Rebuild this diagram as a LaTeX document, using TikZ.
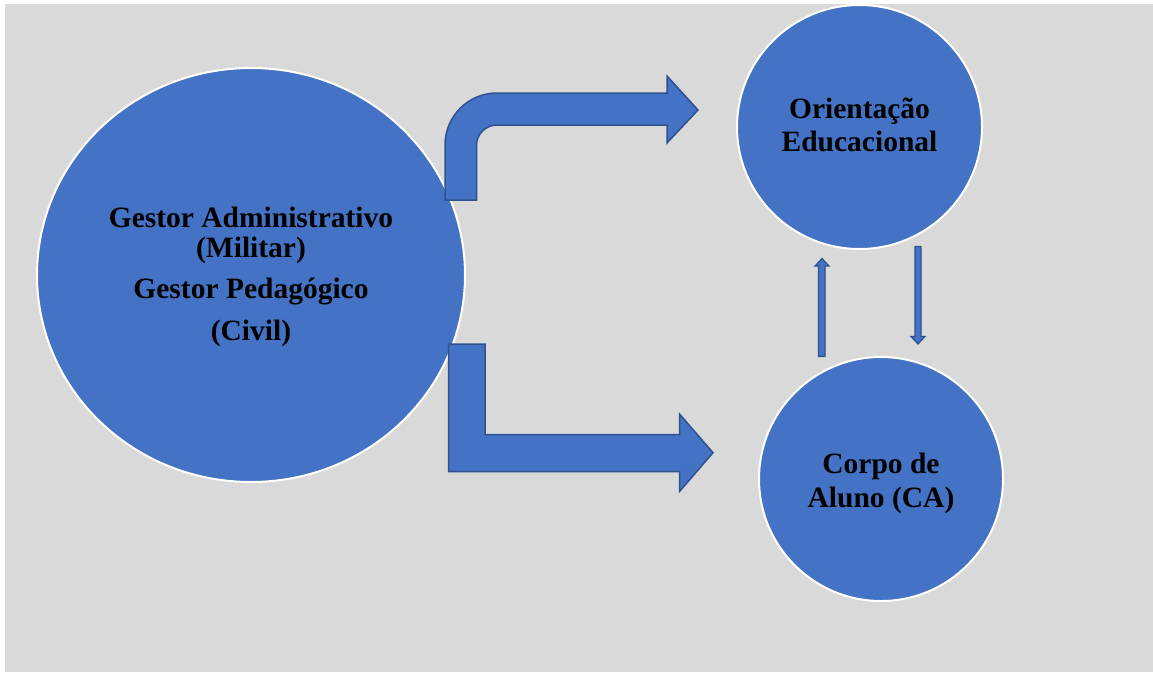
\documentclass[tikz,border=0pt]{standalone}
\usepackage{fontspec}
\setmainfont{Liberation Serif}
\definecolor{bg}{HTML}{D9D9D9}
\definecolor{blu}{HTML}{4472C4}
\definecolor{dblu}{HTML}{2F528F}
\tikzset{
  circ/.style={ellipse, fill=blu, draw=white, line width=2pt, inner sep=0pt},
  lbl/.style={font=\bfseries\fontsize{29.5}{30}\selectfont, align=center, text=black, anchor=base, inner sep=0pt},
  bigarrow/.style={fill=blu, draw=dblu, line width=1.5pt, line join=miter},
  thinarrow/.style={fill=blu, draw=dblu, line width=1.2pt}
}
\usetikzlibrary{shapes.geometric}
\begin{document}
\begin{tikzpicture}[x=1pt,y=-1pt]
\useasboundingbox (0,0) rectangle (1153,672);
\fill[white] (0,0) rectangle (1153,672);
\fill[bg] (5,4) rectangle (1153,672);
% circles
\node[circ, minimum width=428pt, minimum height=414pt] (gest) at (251,275) {};
\node[circ, minimum width=245pt, minimum height=244pt] (ori) at (859.5,127) {};
\node[circ, minimum width=244pt, minimum height=244pt] (corpo) at (881,479) {};
% labels
\node[lbl] (g1) at (251,227) {Gestor Administrativo};
\node[lbl] (g2) at (251,257) {(Militar)};
\node[lbl] (g3) at (251,298) {Gestor Pedagógico};
\node[lbl] (g4) at (251,340) {(Civil)};
\node[lbl] (o1) at (859.5,118) {Orientação};
\node[lbl] (o2) at (859.5,151) {Educacional};
\node[lbl] (c1) at (881,473) {Corpo de};
\node[lbl] (c2) at (881,507) {Aluno (CA)};
% top bent arrow
\draw[bigarrow] (445,200) -- (445,145) arc[start angle=180, end angle=270, radius=52]
  -- (667,93) -- (667,76) -- (698,110) -- (667,143) -- (667,125) -- (497,125)
  arc[start angle=270, end angle=180, radius=20.5] -- (476.5,200) -- cycle;
% bottom L arrow
\draw[bigarrow] (448.5,344) -- (485,344) -- (485,434.5) -- (679.5,434.5) -- (679.5,414)
  -- (713,452.7) -- (679.5,491.5) -- (679.5,471.5) -- (448.5,471.5) -- cycle;
% thin arrows
\draw[thinarrow] (818.5,356.5) -- (818.5,266) -- (815,266) -- (822,258.5) -- (829,266) -- (825,266) -- (825,356.5) -- cycle;
\draw[thinarrow] (915,246.5) -- (921,246.5) -- (921,336.5) -- (925,336.5) -- (918,344) -- (911,336.5) -- (915,336.5) -- cycle;
\end{tikzpicture}
\end{document}
